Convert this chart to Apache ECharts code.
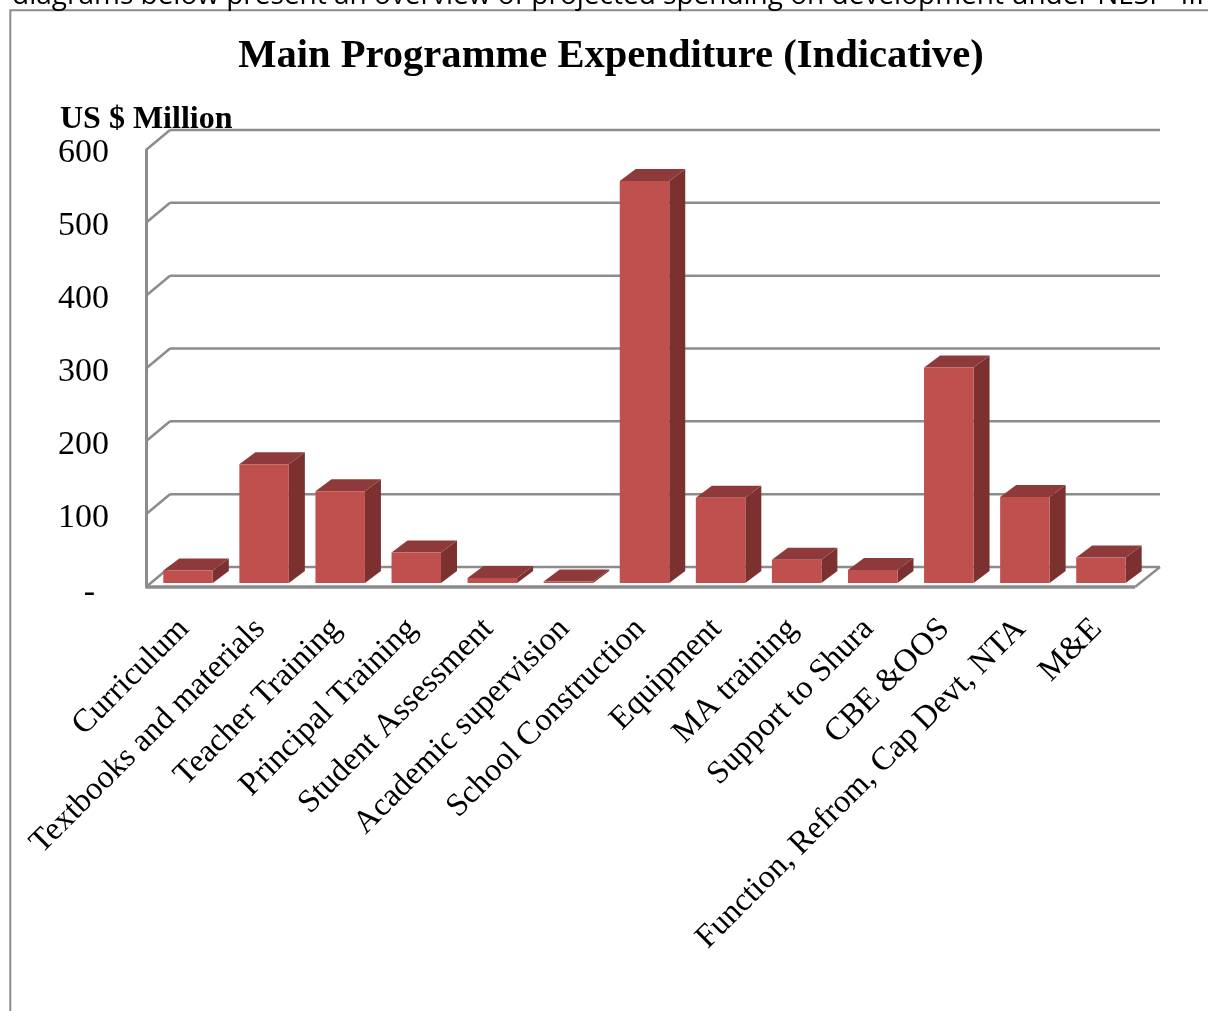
<!DOCTYPE html>
<html><head><meta charset="utf-8">
<style>html,body{margin:0;padding:0;background:#fff}#c{width:1208px;height:1011px}</style>
<script src="https://cdn.jsdelivr.net/npm/echarts@6/dist/echarts.min.js"></script>
</head><body><div id="c"></div>
<script>
const categories = ["Curriculum","Textbooks and materials","Teacher Training","Principal Training","Student Assessment","Academic supervision","School Construction","Equipment","MA training","Support to Shura","CBE &OOS","Function, Refrom, Cap Devt, NTA","M&E"];
const spending = [17,163,126,42,7,2,552,117,32,18,296,118,35];
const valueTicks = [0,100,200,300,400,500,600];
const titleText = "Main Programme Expenditure (Indicative)";
const unitText = "US $ Million";
const headerText = "diagrams below present an overview of projected spending on development under NESP  III";

const serif = "'Liberation Serif'";
const L = 146, R = 1135, T = 150, B = 587;
const wallDx = 24, wallDy = -20;
const barDx = 16, barDy = -12, barInset = 4;
const gridColor = '#8c8c8c';

const chart = echarts.init(document.getElementById('c'), null, {renderer:'canvas'});

function lineEl(x1,y1,x2,y2,w,c){
  return {type:'line',shape:{x1,y1,x2,y2},style:{stroke:c||gridColor,lineWidth:w||2.5}};
}
function renderWall(params, api){
  const v = api.value(0);
  const y = api.coord([0, v])[1];
  const children = [
    lineEl(L,y,L+wallDx,y+wallDy),
    lineEl(L+wallDx,y+wallDy,R+wallDx+1,y+wallDy)
  ];
  if (v === 0) {
    children.push(lineEl(L,y,R,y,3.5));
    children.push(lineEl(R,y,R+wallDx+1,y+wallDy));
  }
  return {type:'group',children};
}
function renderBar(params, api){
  const c = api.coord([api.value(0), api.value(1)]);
  const base = api.coord([api.value(0), 0]);
  const w = 49.5;
  const x0 = c[0] - w/2 + barInset, x1 = x0 + w;
  const yT = c[1] - barInset, yB = base[1] - barInset;
  return {type:'group',children:[
    {type:'polygon',shape:{points:[[x1,yT],[x1+barDx,yT+barDy],[x1+barDx,yB+barDy],[x1,yB]]},style:{fill:'#7c3030'}},
    {type:'polygon',shape:{points:[[x0,yT],[x0+barDx,yT+barDy],[x1+barDx,yT+barDy],[x1,yT]]},style:{fill:'#8f3a3a'}},
    {type:'rect',shape:{x:x0,y:yT,width:w,height:yB-yT},style:{fill:'#c0504d'}}
  ]};
}
chart.setOption({
  animation:false,
  backgroundColor:'#fff',
  title:{text:titleText,left:606,top:31,textAlign:'center',
    textStyle:{fontFamily:serif,fontWeight:'bold',fontSize:40.6,color:'#000'}},
  grid:{left:L,right:1208-R,top:T,bottom:1011-B,containLabel:false},
  xAxis:{type:'category',data:categories,
    axisLine:{show:false},axisTick:{show:false},
    axisLabel:{interval:0,rotate:45,margin:37,fontFamily:serif,fontSize:32.5,color:'#000'}},
  yAxis:{type:'value',min:0,max:600,interval:100,
    axisLine:{show:true,lineStyle:{color:gridColor,width:3}},axisTick:{show:false},
    splitLine:{show:false},
    axisLabel:{margin:37,fontFamily:serif,fontSize:34,color:'#000',padding:[7,0,0,0],
      formatter:v=>v===0?'{dash|-}':String(v),
      rich:{dash:{fontFamily:serif,fontSize:34,color:'#000',padding:[6,14,0,0]}}}},
  graphic:[
    {type:'text',left:12,top:-18,style:{text:headerText,fontFamily:"'Open Sans'",fontSize:28,fill:'#000'}},
    {type:'rect',shape:{x:10.3,y:10.3,width:1300,height:1100},style:{fill:'#fff',stroke:gridColor,lineWidth:2},silent:true,z:-1},
    {type:'text',left:60,top:104,style:{text:unitText,fontFamily:serif,fontWeight:'bold',fontSize:32,fill:'#000'}}
  ],
  series:[
    {type:'custom',coordinateSystem:'cartesian2d',renderItem:renderWall,silent:true,z:1,
      encode:{y:0},data:valueTicks.map(v=>[v])},
    {type:'custom',coordinateSystem:'cartesian2d',renderItem:renderBar,silent:true,z:3,
      encode:{x:0,y:1},data:spending.map((v,i)=>[i,v])}
  ]
});
</script></body></html>
